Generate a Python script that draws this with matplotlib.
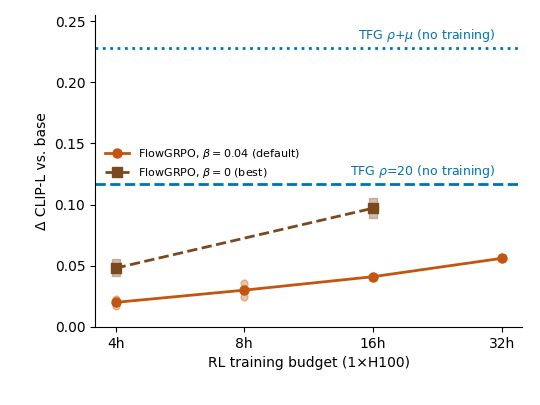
import matplotlib
matplotlib.use("Agg")
import matplotlib.pyplot as plt

budgets = ["4h", "8h", "16h", "32h"]
xpos = [0, 1, 2, 3]
def_mean = [0.020, 0.030, 0.041, 0.056]
def_seeds = [[0.017, 0.020, 0.023], [0.024, 0.030, 0.036], [0.041], [0.056]]
best_x = [0, 2]
best_mean = [0.048, 0.097]
best_seeds = [[0.045, 0.052], [0.092, 0.102]]
tfg_mu = 0.228
tfg_20 = 0.117

c1 = "#c0560f"
c2 = "#7a4a1e"
cb = "#0072b2"

fig = plt.figure(figsize=(5.4, 4.05), dpi=100)
ax = fig.add_axes([0.176, 0.193, 0.791, 0.77])
for x, s in zip(xpos, def_seeds):
    ax.scatter([x]*len(s), s, color=c1, alpha=0.35, s=25, zorder=2)
for x, s in zip(best_x, best_seeds):
    ax.scatter([x]*len(s), s, color=c2, alpha=0.35, s=40, marker="s", zorder=2)
ax.plot(xpos, def_mean, "-o", color=c1, lw=2, ms=6.5, label=r"FlowGRPO, $\beta=0.04$ (default)", zorder=3)
ax.plot(best_x, best_mean, "--s", color=c2, lw=2, ms=7, label=r"FlowGRPO, $\beta=0$ (best)", zorder=3)
ax.axhline(tfg_mu, color=cb, ls=":", lw=2)
ax.axhline(tfg_20, color=cb, ls="--", lw=2)
ax.text(2.95, tfg_mu + 0.003, r"TFG $\rho$+$\mu$ (no training)", color=cb, ha="right", va="bottom", fontsize=9)
ax.text(2.95, tfg_20 + 0.003, r"TFG $\rho$=20 (no training)", color=cb, ha="right", va="bottom", fontsize=9)
ax.set_xlim(-0.16, 3.16)
ax.set_ylim(0, 0.255)
ax.set_xticks(xpos)
ax.set_xticklabels(budgets, fontsize=10)
ax.tick_params(axis="y", labelsize=10)
ax.set_xlabel("RL training budget (1×H100)", fontsize=10)
ax.set_ylabel("Δ CLIP-L vs. base", fontsize=10)
ax.spines["top"].set_visible(False)
ax.spines["right"].set_visible(False)
ax.legend(loc="upper left", bbox_to_anchor=(0.0, 0.61), frameon=False, fontsize=8, handlelength=2.2)
fig.savefig("out.png")
